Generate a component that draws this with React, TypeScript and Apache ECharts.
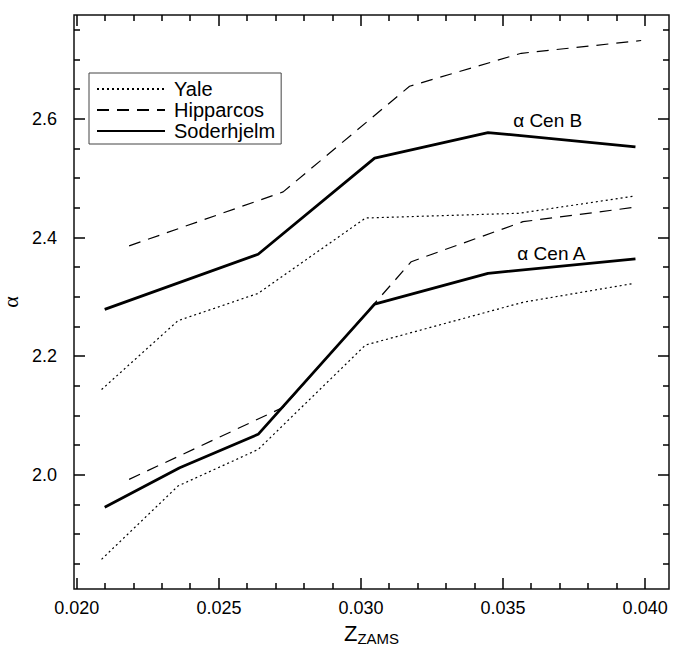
import React, { useEffect, useRef } from "react";
import * as echarts from "echarts";

// ---- data ----
const yaleAX = [0.02087, 0.02356, 0.02638, 0.03016, 0.0357, 0.03962];
const yaleAY = [1.858, 1.9815, 2.043, 2.219, 2.291, 2.323];
const yaleBX = [0.02087, 0.02356, 0.02638, 0.03016, 0.03558, 0.03962];
const yaleBY = [2.144, 2.26, 2.306, 2.433, 2.441, 2.47];

const hippAX = [0.02184, 0.02726, 0.03177, 0.0357, 0.03962];
const hippAY = [1.9927, 2.114, 2.3594, 2.4268, 2.451];
const hippBX = [0.02184, 0.02726, 0.03171, 0.03564, 0.03986];
const hippBY = [2.386, 2.477, 2.655, 2.7105, 2.732];

const sodAX = [0.02098, 0.02362, 0.02638, 0.03048, 0.03447, 0.03966];
const sodAY = [1.9456, 2.0123, 2.0686, 2.288, 2.3398, 2.364];
const sodBX = [0.02098, 0.02638, 0.03048, 0.03447, 0.03966];
const sodBY = [2.279, 2.372, 2.534, 2.577, 2.553];

const legendNames = ["Yale", "Hipparcos", "Soderhjelm"];
const xMajor = [0.02, 0.025, 0.03, 0.035, 0.04];
const xMinor = [
  0.021, 0.022, 0.023, 0.024, 0.026, 0.027, 0.028, 0.029, 0.031, 0.032,
  0.033, 0.034, 0.036, 0.037, 0.038, 0.039,
];
const yMajor = [2.0, 2.2, 2.4, 2.6];
const yMinor = [
  1.85, 1.9, 1.95, 2.05, 2.1, 2.15, 2.25, 2.3, 2.35, 2.45, 2.5, 2.55, 2.65,
  2.7, 2.75,
];
const annotations = [
  { text: "α Cen B", x: 0.03657, y: 2.5965 },
  { text: "α Cen A", x: 0.0367, y: 2.3724 },
];

const X_MIN = 0.0199;
const X_MAX = 0.04084;
const Y_MIN = 1.808;
const Y_MAX = 2.775;

const pairs = (xs: number[], ys: number[]) => xs.map((x, i) => [x, ys[i]]);

const FONT = "Liberation Sans";
const INK = "#000";

export default function App() {
  const ref = useRef<HTMLDivElement>(null);

  useEffect(() => {
    document.body.style.margin = "0";
    const chart = echarts.init(ref.current!, null, { renderer: "svg" });

    const yaleStyle = { color: "#000", width: 1.2, type: [2, 3] as any };
    const hippStyle = { color: "#000", width: 1.2, type: [12, 8] as any };
    const sodStyle = { color: "#000", width: 2.8, type: "solid" as any };

    const line = (name: string, xs: number[], ys: number[], style: any, z: number) => ({
      type: "line",
      name,
      data: pairs(xs, ys),
      symbol: "none",
      showSymbol: false,
      lineStyle: style,
      itemStyle: { color: "#000" },
      z,
    });

    chart.setOption({
      animation: false,
      backgroundColor: "#fff",
      grid: {
        left: 74,
        right: 17,
        top: 15,
        bottom: 58,
        outerBoundsMode: "none",
        containLabel: false,
        show: false,
      },
      legend: {
        data: legendNames,
        orient: "vertical",
        left: 89,
        top: 73,
        itemWidth: 68,
        itemHeight: 12,
        itemGap: 1,
        padding: [6, 6, 3, 7],
        borderColor: "#444",
        borderWidth: 1,
        backgroundColor: "#fff",
        itemStyle: { opacity: 0 },
        textStyle: { fontFamily: FONT, fontSize: 20, color: INK, lineHeight: 20, padding: [0, 0, 0, 4] },
        selectedMode: false,
      },
      xAxis: {
        type: "value",
        min: X_MIN,
        max: X_MAX,
        axisLine: { show: false },
        splitLine: { show: false },
        axisTick: { show: false },
        axisLabel: {
          customValues: xMajor,
          formatter: (v: number) => v.toFixed(3),
          fontFamily: FONT,
          fontSize: 18,
          color: INK,
          margin: 10,
        },
        name: "{z|Z}{s|ZAMS}",
        nameLocation: "middle",
        nameGap: 31,
        nameTextStyle: {
          rich: {
            z: { fontFamily: FONT, fontSize: 22, color: INK },
            s: { fontFamily: FONT, fontSize: 15, color: INK, padding: [11, 0, 0, 0] },
          },
        },
      },
      yAxis: {
        type: "value",
        min: Y_MIN,
        max: Y_MAX,
        axisLine: { show: false },
        splitLine: { show: false },
        axisTick: { show: false },
        axisLabel: {
          customValues: yMajor,
          formatter: (v: number) => v.toFixed(1),
          fontFamily: FONT,
          fontSize: 18,
          color: INK,
          margin: 17,
        },
        name: "α",
        nameLocation: "middle",
        nameGap: 53,
        nameMoveOverlap: false,
        nameRotate: 90,
        nameTextStyle: { fontFamily: "Liberation Serif", fontSize: 22, color: INK },
      },
      series: [
        line("Yale", yaleAX, yaleAY, yaleStyle, 2),
        line("Yale", yaleBX, yaleBY, yaleStyle, 2),
        line("Hipparcos", hippAX, hippAY, hippStyle, 3),
        line("Hipparcos", hippBX, hippBY, hippStyle, 3),
        line("Soderhjelm", sodAX, sodAY, sodStyle, 4),
        line("Soderhjelm", sodBX, sodBY, sodStyle, 4),
        {
          type: "scatter",
          name: "labels",
          data: annotations.map((a) => ({ value: [a.x, a.y], name: a.text })),
          symbolSize: 0,
          itemStyle: { opacity: 0 },
          label: {
            show: true,
            position: "inside",
            formatter: (p: any) => p.name,
            fontFamily: FONT,
            fontSize: 19,
            color: INK,
            opacity: 1,
          },
          z: 5,
        },
      ],
    });

    // frame and ticks placed through the chart's own axis scales
    const px = (x: number, y: number) => chart.convertToPixel({ gridIndex: 0 }, [x, y]) as number[];
    const [l, b] = px(X_MIN, Y_MIN);
    const [r, t] = px(X_MAX, Y_MAX);
    const L = Math.round(l);
    const R = Math.round(r);
    const T = Math.round(t);
    const B = Math.round(b);
    const st = { stroke: "#000", lineWidth: 1.5 };
    const els: any[] = [
      { type: "rect", shape: { x: L, y: T, width: R - L, height: B - T }, style: { fill: null, stroke: "#111", lineWidth: 1.5 }, z: 10 },
    ];
    const xt = (v: number, len: number) => {
      const x = Math.round(px(v, Y_MIN)[0]);
      els.push({ type: "line", shape: { x1: x, y1: B, x2: x, y2: B - len }, style: st, z: 10 });
      els.push({ type: "line", shape: { x1: x, y1: T, x2: x, y2: T + len }, style: st, z: 10 });
    };
    const yt = (v: number, len: number) => {
      const y = Math.round(px(X_MIN, v)[1]);
      els.push({ type: "line", shape: { x1: L, y1: y, x2: L + len, y2: y }, style: st, z: 10 });
      els.push({ type: "line", shape: { x1: R, y1: y, x2: R - len, y2: y }, style: st, z: 10 });
    };
    xMajor.forEach((v) => xt(v, 11));
    xMinor.forEach((v) => xt(v, 6));
    yMajor.forEach((v) => yt(v, 11));
    yMinor.forEach((v) => yt(v, 6));
    chart.setOption({ graphic: { elements: els } });

    return () => chart.dispose();
  }, []);

  return <div ref={ref} style={{ width: 686, height: 647 }} />;
}
